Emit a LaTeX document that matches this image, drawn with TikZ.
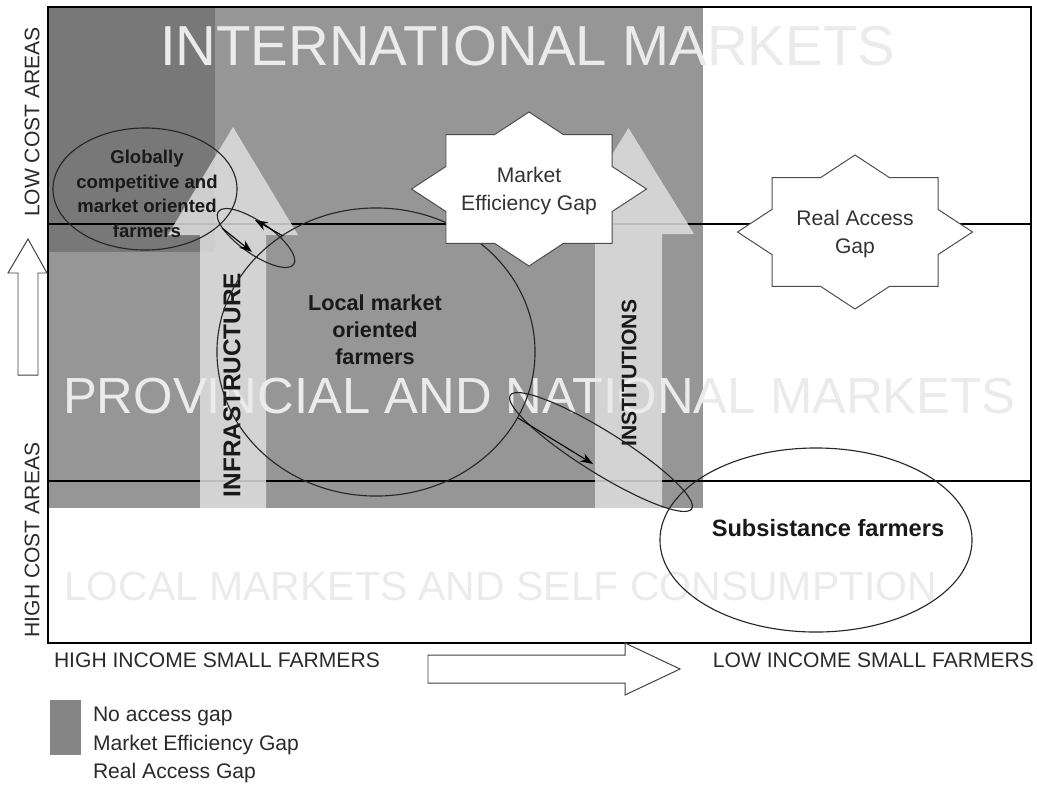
\documentclass[tikz,border=0pt]{standalone}
\usepackage{fontspec}
\setmainfont{Liberation Sans}
\usetikzlibrary{shapes.geometric, arrows.meta}

\definecolor{deepgap}{HTML}{787878}
\definecolor{effgap}{HTML}{969696}
\definecolor{pillar}{HTML}{DEDEDE}
\definecolor{ghost}{HTML}{EBEBEB}
\definecolor{keygray}{HTML}{858585}
\definecolor{inkgray}{HTML}{2A2A2A}

\begin{document}
\begin{tikzpicture}
  [
  x=0.025cm, y=-0.025cm, >={Stealth[length=9pt,width=6.5pt]},
  every node/.style={inner sep=0pt, outer sep=0pt},
  market title/.style={text=ghost, anchor=base west, font=\fontsize{#1}{#1}\selectfont},
  axis label/.style={text=inkgray, font=\fontsize{15}{20}\selectfont},
  lever/.style={fill=pillar, fill opacity=0.85, draw=none},
  lever label/.style={rotate=90, text=black!90, font=\bfseries\fontsize{#1}{#1}\selectfont},
  group/.style={ellipse, draw=black!85, line width=0.8pt},
  group label/.style={align=center, text=black!90},
  move/.style={ellipse, draw=black!85, line width=0.8pt},
  hollow arrow/.style={draw=black!75, fill=white, line width=0.7pt},
  gap label/.style={align=center, text=black!80, font=\fontsize{15}{20}\selectfont},
  gapstar/.pic={
    \draw[draw=black!70, fill=white, line width=0.7pt]
      (117.5,0) -- (83,22.6) -- (83,54.4) -- (34.4,54.4) -- (0,77)
      -- (-34.4,54.4) -- (-83,54.4) -- (-83,22.6) -- (-117.5,0)
      -- (-83,-22.6) -- (-83,-54.4) -- (-34.4,-54.4) -- (0,-77)
      -- (34.4,-54.4) -- (83,-54.4) -- (83,-22.6) -- cycle;
    \node[gap label] (-text) at (0,2) {#1};
  }
  ]
  \useasboundingbox (0,0) rectangle (1037,784);

  % access gap regions
  \fill[effgap]  (48,7) rectangle (703,508);
  \fill[deepgap] (48,7) rectangle (215,252);
  \draw[line width=1.4pt] (48,224) -- (1031,224);
  \draw[line width=1.4pt] (48,481) -- (1031,481);
  \draw[line width=1.8pt] (48,7) rectangle (1031,643);

  % infrastructure and institutions
  \path[lever] (200,508) -- (200,235) -- (168,235) -- (233,127) -- (298,235) -- (266,235) -- (266,508) -- cycle;
  \path[lever] (595,508) -- (595,234) -- (563,234) -- (628.5,128) -- (694,234) -- (662,234) -- (662,508) -- cycle;

  \node[market title=40.1] (intl)  at (160,65)  {INTERNATIONAL MARKETS};
  \node[market title=36.1] (prov)  at (63,413)  {PROVINCIAL AND NATIONAL MARKETS};
  \node[market title=29.1] (local) at (64,600)  {LOCAL MARKETS AND SELF CONSUMPTION};

  \node[lever label=17.3] (infra) at (232,385) {INFRASTRUCTURE};
  \node[lever label=15]   (inst)  at (629,373) {INSTITUTIONS};

  % farmer groups
  \node[group, minimum width=4.6cm,  minimum height=3.05cm] (glob) at (145,189) {};
  \node[group, minimum width=7.95cm, minimum height=7.2cm]  (loc)  at (376,352) {};
  \node[group, minimum width=7.8cm,  minimum height=4.6cm]  (subs) at (816,540) {};
  \node[group label, font=\bfseries\fontsize{13.2}{17.4}\selectfont] (globtext) at (147,194)
    {Globally\\competitive and\\market oriented\\farmers};
  \node[group label, font=\bfseries\fontsize{15.4}{19.2}\selectfont] (loctext) at (375,330)
    {Local market\\oriented\\farmers};
  \node[group label, font=\bfseries\fontsize{16.8}{20}\selectfont] (substext) at (828,528)
    {Subsistance farmers};

  % moves between groups
  \node[move, rotate=-35, minimum width=2.3cm,  minimum height=0.8cm]  (upmove)   at (256,238) {};
  \node[move, rotate=-32, minimum width=5.35cm, minimum height=1.05cm] (downmove) at (601,452) {};
  \coordinate (up1)   at (283,236);
  \coordinate (up2)   at (255,220);
  \coordinate (back1) at (222,228);
  \coordinate (back2) at (252,252);
  \coordinate (down1) at (518,418);
  \coordinate (down2) at (593,464);
  \draw[->, line width=0.8pt] (up1) -- (up2);
  \draw[->, line width=0.8pt] (back1) -- (back2);
  \draw[->, line width=0.8pt] (down1) -- (down2);

  % gaps
  \pic (meg) at (529,189) {gapstar={Market\\Efficiency Gap}};
  \pic (rag) at (855,232) {gapstar={Real Access\\Gap}};

  % axes
  \node[axis label, rotate=90] (lowcost)  at (32,122) {LOW COST AREAS};
  \node[axis label, rotate=90] (highcost) at (32,540) {HIGH COST AREAS};
  \draw[hollow arrow] (18,375) -- (18,273) -- (8,273) -- (28,239) -- (47,273) -- (38,273) -- (38,375) -- cycle;
  \node[axis label, anchor=west] (highinc) at (54,660)   {HIGH INCOME SMALL FARMERS};
  \node[axis label, anchor=east] (lowinc)  at (1034,660) {LOW INCOME SMALL FARMERS};
  \draw[hollow arrow] (428,655) -- (625,655) -- (625,643) -- (680,669) -- (625,695) -- (625,683) -- (428,683) -- cycle;

  % key
  \node[fill=keygray, minimum width=0.775cm, minimum height=1.375cm] (key) at (65.5,727.5) {};
  \node[axis label, align=left, anchor=west] (keytext) at (93,745)
    {No access gap\\Market Efficiency Gap\\Real Access Gap};
\end{tikzpicture}
\end{document}
